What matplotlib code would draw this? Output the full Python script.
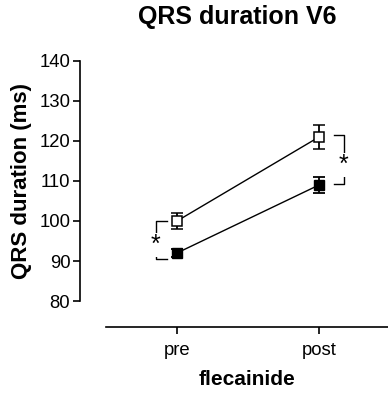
import matplotlib
matplotlib.use("Agg")
import matplotlib.pyplot as plt

plt.rcParams['font.family'] = ['Liberation Sans', 'DejaVu Sans']

categories = ["pre", "post"]
open_mean = [100, 121]
open_err = [2, 3]
filled_mean = [92, 109]
filled_err = [1, 2]
yticks = [80, 90, 100, 110, 120, 130, 140]
# significance brackets: (x position, y low, y high, star y)
brackets = [(-0.148, 90.5, 100.0, 95.2, "left"), (1.176, 109.2, 121.5, 115.3, "right")]

W, H = 388, 397
fig = plt.figure(figsize=(W / 100, H / 100), dpi=100)
ax = fig.add_axes([106 / W, (H - 301) / H, (W - 106) / W, 240 / H])

x = list(range(len(categories)))
ax.errorbar(x, filled_mean, yerr=filled_err, color='black', lw=1.0, capsize=4,
            capthick=1.3, elinewidth=1.3, marker='s', markersize=7,
            markerfacecolor='black', markeredgecolor='black', zorder=3)
ax.errorbar(x, open_mean, yerr=open_err, color='black', lw=1.0, capsize=4,
            capthick=1.3, elinewidth=1.3, marker='s', markersize=6.5,
            markerfacecolor='white', markeredgecolor='black', markeredgewidth=1.1,
            zorder=3)

for bx, ylo, yhi, ys, side in brackets:
    tip = 0.075 if side == "left" else -0.07
    ax.plot([bx + tip, bx, bx, bx + tip], [yhi, yhi, ylo, ylo], color='black',
            lw=1.0, zorder=2)
    ax.annotate("*", (bx, ys), xytext=(0, -3.5), textcoords='offset points',
                ha='center', va='center', fontsize=18, zorder=4,
                bbox=dict(facecolor='white', edgecolor='none', pad=0.0))

ax.set_xlim(-0.5, 1.486)
ax.set_ylim(80, 140)
ax.set_yticks(yticks)
ax.set_xticks(x)
ax.set_xticklabels(categories)

for s in ['top', 'right']:
    ax.spines[s].set_visible(False)
ax.spines['left'].set_position(('outward', 18.7))
ax.spines['bottom'].set_position(('outward', 18.7))
for s in ['left', 'bottom']:
    ax.spines[s].set_linewidth(1.2)
ax.tick_params(axis='both', direction='out', length=5, width=1.2,
               labelsize=13.3, colors='black')
ax.tick_params(axis='x', pad=6)
ax.tick_params(axis='y', pad=2)

ax.set_ylabel("QRS duration (ms)", fontsize=16, fontweight='bold', labelpad=5)
ax.set_xlabel("flecainide", fontsize=15, fontweight='bold', labelpad=7.5)
fig.text(237 / W, 1 - 17 / H, "QRS duration V6", ha='center', va='center',
         fontsize=18, fontweight='bold')

fig.savefig("out.png", dpi=100)
